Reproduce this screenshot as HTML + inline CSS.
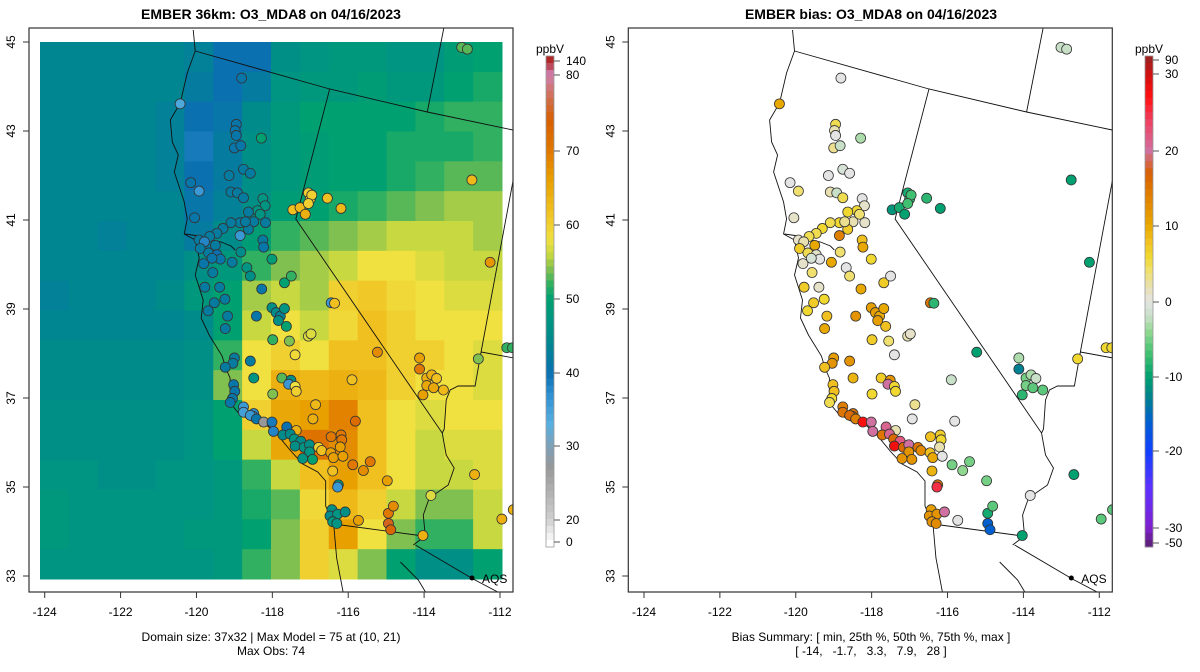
<!DOCTYPE html>
<html><head><meta charset="utf-8"><style>
html,body{margin:0;padding:0;background:#fff;}
svg{display:block;font-family:"Liberation Sans",Arial,sans-serif;}
</style></head><body>
<svg id="fig" width="1200" height="672" viewBox="0 0 1200 672" xmlns="http://www.w3.org/2000/svg">
<defs>
<clipPath id="clipL"><rect x="29" y="28" width="484" height="564"/></clipPath>
</defs>
<text x="271" y="19" text-anchor="middle" font-size="14" font-weight="bold">EMBER 36km: O3_MDA8 on 04/16/2023</text>
<text x="871" y="19" text-anchor="middle" font-size="14" font-weight="bold">EMBER bias: O3_MDA8 on 04/16/2023</text>
<g id="panelL"></g>
<g id="panelR" transform="translate(599.3,0)"></g>
<g id="cbL"></g>
<g id="cbR"></g>
<text x="271" y="641" text-anchor="middle" font-size="12">Domain size: 37x32 | Max Model = 75 at (10, 21)</text>
<text x="271" y="655" text-anchor="middle" font-size="12">Max Obs: 74</text>
<text x="871" y="641" text-anchor="middle" font-size="12">Bias Summary: [ min, 25th %, 50th %, 75th %, max ]</text>
<text x="871" y="655" text-anchor="middle" font-size="12" style="white-space:pre" xml:space="preserve">[ -14,   -1.7,   3.3,   7.9,   28 ]</text>
</svg>
<script>
// ---- data ----
const gridLonMin = -124.13, gridLonMax = -111.95, gridLatMin = 33.0, gridLatMax = 45.0;
const modelGrid = [
[44,44,44,44,44,43,40,40,46,47,48,48,47,47,49,50],
[44,44,44,44,44,42,40,42,47,48,48,49,48,48,50,51],
[44,44,44,44,43,40,41,45,48,50,50,50,50,51,52,52],
[44,44,44,44,43,39,42,46,48,49,50,50,51,51,51,52],
[44,44,44,44,43,40,42,46,48,49,50,50,51,52,53,53],
[44,44,44,44,44,41,43,46,49,50,51,52,53,54,55,55],
[44,44,43,44,44,42,45,49,52,53,54,55,56,56,56,55],
[44,44,44,44,44,46,48,52,54,55,56,58,58,57,56,56],
[43,44,44,44,45,48,50,55,56,55,60,61,59,58,57,57],
[44,44,44,44,44,45,50,56,58,56,59,62,60,58,58,58],
[45,45,45,45,45,46,52,58,60,58,62,62,60,60,58,57],
[45,45,45,45,45,46,54,58,64,63,64,63,60,58,58,57],
[46,46,46,46,46,47,50,60,65,66,69,62,58,57,58,58],
[46,46,46,46,46,47,50,56,65,71,68,62,58,56,57,57],
[47,47,46,46,47,47,48,52,56,62,66,62,58,56,56,57],
[48,47,47,47,47,47,48,51,53,59,63,60,56,54,54,56],
[48,47,47,47,47,48,48,50,54,60,66,58,54,52,52,56],
[47,47,47,47,47,47,48,52,54,60,57,54,50,46,46,50]];
const stnLon = [-120.43,-118.81,-118.95,-118.98,-118.95,-119.00,-118.83,-118.29,-118.76,-118.58,-119.14,-120.15,-119.93,-119.09,-118.92,-118.76,-118.25,-118.19,-118.39,-118.32,-118.63,-118.49,-118.18,-118.63,-118.85,-118.71,-119.09,-119.30,-119.46,-119.65,-120.05,-119.93,-119.79,-119.90,-119.68,-119.50,-119.46,-119.37,-119.59,-119.81,-119.57,-118.85,-118.83,-119.06,-118.25,-118.23,-118.01,-118.67,-118.58,-119.78,-119.39,-119.25,-119.53,-119.69,-119.18,-119.24,-118.28,-117.68,-117.50,-118.01,-117.90,-117.79,-117.68,-117.84,-118.42,-117.63,-117.99,-117.55,-117.40,-117.05,-116.98,-116.45,-116.36,-115.23,-119.00,-119.04,-119.24,-118.58,-118.49,-119.02,-118.99,-119.05,-119.11,-117.75,-117.51,-117.57,-117.40,-117.37,-117.99,-116.86,-116.93,-115.81,-115.90,-118.76,-118.76,-118.49,-118.51,-118.58,-118.42,-118.23,-118.01,-117.97,-117.62,-117.37,-117.72,-117.53,-117.42,-117.25,-117.40,-117.16,-117.02,-117.02,-117.20,-116.94,-116.78,-116.70,-116.45,-116.19,-116.17,-116.21,-116.46,-116.39,-116.14,-115.88,-115.60,-115.42,-114.97,-116.41,-116.26,-116.28,-116.43,-116.48,-116.28,-116.08,-116.41,-116.30,-115.73,-114.94,-114.81,-114.94,-114.88,-114.03,-113.82,-114.12,-114.12,-113.93,-113.80,-113.67,-113.93,-113.75,-113.49,-114.03,-112.57,-111.82,-111.67,-112.67,-111.95,-111.65,-112.26,-112.74,-113.01,-112.86,-117.46,-117.27,-117.13,-117.05,-117.00,-116.96,-117.05,-116.55,-116.19];
const stnLat = [43.61,44.19,43.15,43.01,42.90,42.62,42.67,42.84,42.14,42.05,42.00,41.84,41.65,41.63,41.61,41.50,41.48,41.32,41.21,41.13,41.18,40.96,40.94,40.79,40.94,40.96,40.94,40.81,40.70,40.63,41.05,40.55,40.51,40.36,40.26,40.43,40.22,40.12,40.14,40.02,39.82,40.65,40.28,40.05,40.55,40.39,40.12,39.93,39.74,39.49,39.49,39.22,39.14,38.96,38.84,38.56,39.45,39.59,39.74,39.03,38.92,38.84,39.01,38.74,38.84,38.61,38.31,38.28,37.97,38.39,38.44,39.14,39.13,38.03,37.90,37.78,37.69,37.83,37.45,37.30,37.15,36.99,36.90,37.45,37.40,37.31,37.26,37.15,37.09,36.85,36.53,36.48,37.41,36.80,36.68,36.65,36.59,36.61,36.53,36.46,36.46,36.25,36.35,36.27,36.17,36.19,36.08,36.03,35.92,35.89,35.95,35.79,35.64,35.62,35.89,35.82,36.13,36.17,36.06,35.90,35.77,35.66,35.69,35.50,35.37,35.57,35.14,35.36,35.05,35.00,34.49,34.35,34.39,34.44,34.22,34.18,34.25,34.41,34.57,34.18,34.04,33.91,34.81,37.90,37.65,37.45,37.52,37.44,37.28,37.23,37.18,37.07,37.88,38.13,38.13,35.28,34.28,34.49,40.05,41.90,44.88,44.84,41.23,41.28,41.13,41.61,41.47,41.56,41.37,41.49,41.26];
const stnObs = [34,41,41,41,41,41,41,50,42,42,42,41,36,42,42,42,47,47,47,47,42,42,42,42,42,42,42,42,42,42,41,42,38,42,42,42,40,41,41,41,42,36,45,42,42,41,49,47,46,42,42,42,42,42,42,42,41,50,52,46,45,43,47,46,41,50,52,54,59,57,57,36,62,68,42,42,42,42,47,41,41,41,41,53,46,36,58,60,54,63,64,72,62,36,35,37,35,36,41,27,39,38,40,64,45,45,47,45,46,47,46,47,47,50,60,62,70,70,70,66,66,66,66,70,68,70,66,62,47,36,46,45,47,46,48,47,66,70,68,75,73,64,57,66,70,64,64,62,65,65,63,66,54,52,52,64,64,64,67,63,53,53,62,63,64,60,60,60,60,62,63];
const stnBias = [10,0,5,2,0,3,-2,-3,-1,0,0,0,4,2,-2,5,0,1,6,4,6,2,1,7,6,3,5,6,5,5,1,1,2,7,5,10,1,0,-1,1,4,14,4,10,8,10,6,0,4,7,1,6,7,6,8,10,10,7,0,11,11,10,10,11,12,8,7,4,0,2,1,15,-8,-10,11,12,8,12,9,8,8,6,5,7,12,20,6,6,6,3,0,0,-2,14,15,15,15,16,14,27,20,20,21,2,15,21,16,22,28,16,20,12,12,12,15,13,8,7,6,2,8,10,0,-5,-4,-5,-5,9,15,25,11,12,12,20,12,13,0,-9,-6,-16,-16,-10,0,-3,-13,-5,-3,-2,-5,-6,-6,-8,6,6,6,-10,-6,-6,-10,-10,-2,-2,-11,-9,-10,-9,-8,-7,-7,-8,-10];
const modelTickVals = [0,20,30,40,50,60,70,80,140];
const modelTickLabels = ["0","20","30","40","50","60","70","80","140"];
const biasTickVals = [-50,-30,-20,-10,0,10,20,30,90];
const biasTickLabels = ["-50","-30","-20","-10","0","10","20","30","90"];
const lonTicks = [-124,-122,-120,-118,-116,-114,-112];
const latTicks = [33,35,37,39,41,43,45];

// ---- styling / scales ----
const NS = "http://www.w3.org/2000/svg";
function mk(tag, attrs, parent){const e=document.createElementNS(NS,tag);for(const k in attrs)e.setAttribute(k,attrs[k]);if(parent)parent.appendChild(e);return e;}
const xL = lon => 44.7 + (lon + 124) * 37.94;
const yL = lat => 576 - (lat - 33) * 44.5;
const modelStops = [[0,"#ffffff"],[10,"#e8e8e8"],[20,"#d0d0d0"],[25,"#a8a8a8"],[27,"#989898"],[30,"#7ea0b8"],[33,"#58b0e0"],[37,"#3090d0"],[40,"#0a70b0"],[44,"#008690"],[47,"#009482"],[50,"#00a070"],[52,"#30b060"],[54,"#80c050"],[56,"#c8d840"],[58,"#f0e040"],[62,"#f0c020"],[66,"#e8a000"],[70,"#e07800"],[74,"#d86000"],[77,"#d07050"],[80,"#d080b0"],[140,"#b02828"]];
const biasStops = [[-50,"#602080"],[-30,"#8020d0"],[-25,"#6030ff"],[-20,"#1040ff"],[-16,"#0060d0"],[-13,"#008090"],[-10,"#00a070"],[-7,"#40c070"],[-4,"#90d890"],[-2,"#c8e0c8"],[0,"#e4e4e4"],[2,"#e8e0b0"],[4,"#f0e070"],[6,"#f0d830"],[8,"#f0c020"],[10,"#e8a800"],[14,"#e08000"],[17,"#d86000"],[20,"#d070a0"],[24,"#f04060"],[27,"#ff1010"],[30,"#d01010"],[90,"#a02020"]];
function hex(c){return [parseInt(c.substr(1,2),16),parseInt(c.substr(3,2),16),parseInt(c.substr(5,2),16)];}
function cmap(stops,v){
  if(v<=stops[0][0])return stops[0][1];
  for(let i=1;i<stops.length;i++){if(v<=stops[i][0]){const t=(v-stops[i-1][0])/(stops[i][0]-stops[i-1][0]);const a=hex(stops[i-1][1]),b=hex(stops[i][1]);return "rgb("+a.map((x,j)=>Math.round(x+(b[j]-x)*t)).join(",")+")";}}
  return stops[stops.length-1][1];
}

const mapLines = [
 [[194,30],[196,51],[188,73],[181,103],[171,120],[173,142],[179,155],[175,172],[185,202],[188,219],[185,234],[196,240],[200,258],[196,275],[204,300],[202,318],[210,335],[223,356],[227,369],[231,378],[231,403],[242,416],[265,423],[277,433],[292,451],[304,464],[319,472],[327,481],[327,506],[335,524],[338,558],[346,600]],
 [[186,234],[200,236],[212,240],[222,242],[232,246],[236,250]],
 [[196,51],[331,89],[429,112],[515,130]],
 [[446,26],[429,112]],
 [[331,89],[297,219],[444,433],[448,455],[456,468],[450,485],[431,498],[425,515],[427,536],[415,545]],
 [[335,524],[425,536]],
 [[417,545],[475,579],[515,600]],
 [[516,176],[483,352],[477,386],[460,386],[452,390],[448,400],[446,429],[444,433]],
 [[483,352],[516,358]],
 [[402,562],[412,572],[420,580],[432,600]]
];

function drawPanel(g, isBias){
  const clip = mk("g",{"clip-path":"url(#clipL)"},g);
  
  
  if(!isBias){
    const nR=modelGrid.length,nC=modelGrid[0].length;
    const x0g=40,x1g=502,y0g=42,y1g=579;
    const cw=(x1g-x0g)/nC,ch=(y1g-y0g)/nR;
    for(let r=0;r<nR;r++)for(let c=0;c<nC;c++){
      const cell=mk("rect",{x:x0g+c*cw,y:y0g+r*ch,width:cw+0.5,height:ch+0.5,fill:cmap(modelStops,modelGrid[r][c])},clip);
      
      
    }
  }
  const lg=mk("g",{transform:"scale(0.996,1)",fill:"none",stroke:"#111","stroke-width":"0.9"},clip);
  
  
  mapLines.forEach(pl=>{const p=mk("polyline",{points:pl.map(q=>q.join(",")).join(" "),"vector-effect":"non-scaling-stroke"},lg);
    
    });
  const sg=mk("g",{},clip);
  
  
  for(let i=0;i<stnLon.length;i++){
    const v=isBias?stnBias[i]:stnObs[i];
    const c=mk("circle",{cx:xL(stnLon[i]),cy:yL(stnLat[i]),r:5,fill:cmap(isBias?biasStops:modelStops,v),stroke:"#333","stroke-width":"0.8"},sg);
    
    
  }
  const aq=mk("circle",{cx:472,cy:578,r:2.5,fill:"#000"},clip);
  
  
  const at=mk("text",{x:482,y:583,"font-size":"12"},clip); at.textContent="AQS";
  
  
  const fr=mk("rect",{x:29,y:28,width:484,height:564,fill:"none",stroke:"#333","stroke-width":"1.2"},g);
  
  
  lonTicks.forEach(t=>{
    const l=mk("line",{x1:xL(t),x2:xL(t),y1:592,y2:598,stroke:"#333"},g);
    
    
    const tx=mk("text",{x:xL(t),y:616,"text-anchor":"middle","font-size":"12"},g); tx.textContent=String(t);
    
    
  });
  latTicks.forEach(t=>{
    const l=mk("line",{x1:23,x2:29,y1:yL(t),y2:yL(t),stroke:"#333"},g);
    
    
    const tx=mk("text",{x:0,y:0,"text-anchor":"middle","font-size":"12",transform:"translate(15,"+yL(t)+") rotate(-90)"},g); tx.textContent=String(t);
    
    
  });
}
drawPanel(document.getElementById("panelL"), false);
drawPanel(document.getElementById("panelR"), true);

function drawBar(g,x,vals,labels,ys,stops){
  const y0=56,y1=547;
  function valAt(y){
    for(let i=0;i<ys.length-1;i++){if(y<=ys[i]&&y>=ys[i+1]){return vals[i]+(vals[i+1]-vals[i])*(ys[i]-y)/(ys[i]-ys[i+1]);}}
    return y>ys[0]?vals[0]:vals[vals.length-1];
  }
  const n=70,h=(y1-y0)/n;
  for(let k=0;k<n;k++){
    const yy=y0+k*h;
    const r=mk("rect",{x:x,y:yy,width:8,height:h+0.5,fill:cmap(stops,valAt(yy+h/2))},g);
    
    
  }
  const b=mk("rect",{x:x,y:y0,width:8,height:y1-y0,fill:"none",stroke:"#999","stroke-width":"0.8"},g);
  
  
  vals.forEach((v,i)=>{
    const l=mk("line",{x1:x+8,x2:x+14,y1:ys[i],y2:ys[i],stroke:"#555"},g);
    
    
    const t=mk("text",{x:x+20,y:ys[i]+4,"font-size":"12"},g); t.textContent=labels[i];
    
    
  });
  const u=mk("text",{x:x+4,y:53,"text-anchor":"middle","font-size":"12"},g); u.textContent="ppbV";
  
  
}
drawBar(document.getElementById("cbL"),546,modelTickVals,modelTickLabels,[542,520,446,373,299,225,151,75,61],modelStops);
drawBar(document.getElementById("cbR"),1145,biasTickVals,biasTickLabels,[543,528,451,377,302,226,151,74,60],biasStops);
</script>
</body></html>
